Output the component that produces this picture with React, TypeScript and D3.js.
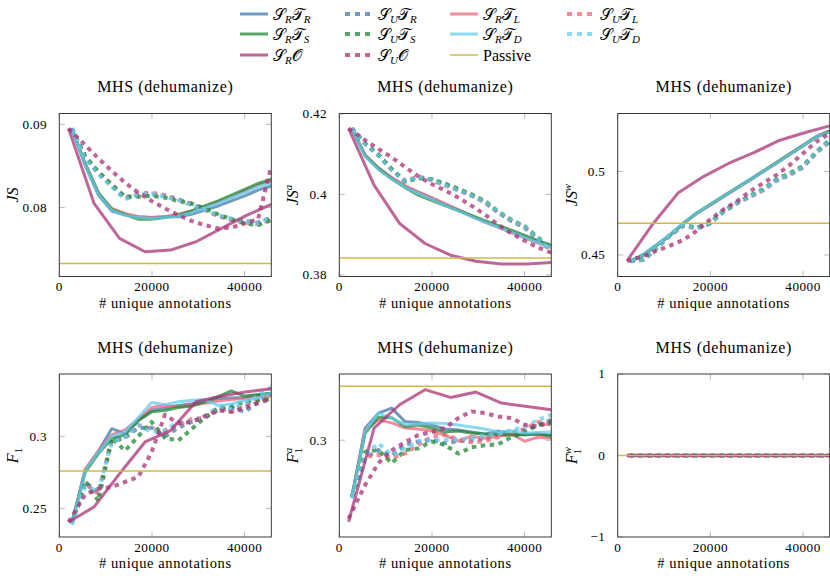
import * as d3 from "d3";

const SERIF = '"Liberation Serif", "Times New Roman", "DejaVu Serif", serif';
const MATH = '"Liberation Serif", "DejaVu Serif", "DejaVu Sans", serif';

// x positions (# unique annotations)
const X_T = [2700, 5570, 8440, 11310, 14180, 17050, 19920, 22790, 25660, 28530, 31400, 34270, 37140, 40010, 42880, 45750];
const X_U = [2000, 5570, 8440, 11310, 14180, 17050, 19920, 22790, 25660, 28530, 31400, 34270, 37140, 40010, 42880, 45750];
const X_O = [2000, 7500, 13000, 18500, 24000, 29500, 35000, 40500, 45750];
const X_TICKS = [0, 20000, 40000];
const X_MAX = 45750;

// JS
const JS = {
  SRTR: [0.0895, 0.0851, 0.0815, 0.0796, 0.0791, 0.0789, 0.0788, 0.0789, 0.0789, 0.0792, 0.0797, 0.0802, 0.0808, 0.0814, 0.0821, 0.0826],
  SUTR: [0.0895, 0.0861, 0.0842, 0.0826, 0.0811, 0.0815, 0.0816, 0.0814, 0.0810, 0.0804, 0.0798, 0.0790, 0.0786, 0.0784, 0.0782, 0.0788],
  SRTL: [0.0895, 0.0853, 0.0817, 0.0799, 0.0793, 0.0789, 0.0788, 0.0789, 0.0792, 0.0796, 0.0801, 0.0807, 0.0813, 0.0820, 0.0827, 0.0832],
  SUTL: [0.0895, 0.0861, 0.0841, 0.0827, 0.0812, 0.0817, 0.0818, 0.0815, 0.0810, 0.0804, 0.0797, 0.0790, 0.0785, 0.0782, 0.0780, 0.0786],
  SRTS: [0.0895, 0.0853, 0.0818, 0.0798, 0.0792, 0.0786, 0.0786, 0.0788, 0.0791, 0.0796, 0.0802, 0.0808, 0.0815, 0.0822, 0.0829, 0.0834],
  SUTS: [0.0895, 0.0862, 0.0843, 0.0828, 0.0813, 0.0813, 0.0814, 0.0812, 0.0808, 0.0805, 0.0799, 0.0792, 0.0786, 0.0781, 0.0779, 0.0785],
  SRTD: [0.0895, 0.0852, 0.0816, 0.0797, 0.0791, 0.0788, 0.0787, 0.0788, 0.0790, 0.0794, 0.0800, 0.0805, 0.0812, 0.0818, 0.0825, 0.0829],
  SUTD: [0.0895, 0.0860, 0.0840, 0.0825, 0.0810, 0.0816, 0.0817, 0.0813, 0.0809, 0.0803, 0.0797, 0.0791, 0.0787, 0.0783, 0.0781, 0.0789],
  SRO: [0.0895, 0.0805, 0.0763, 0.0747, 0.0749, 0.0759, 0.0775, 0.0791, 0.0804],
  SUO: [0.0895, 0.0875, 0.0859, 0.0844, 0.0830, 0.0818, 0.0808, 0.0799, 0.0791, 0.0784, 0.0779, 0.0775, 0.0776, 0.0781, 0.0786, 0.0850],
};

// JS^a
const JSA = {
  SRTR: [0.4164, 0.4096, 0.4063, 0.4040, 0.4020, 0.4005, 0.3991, 0.3975, 0.3961, 0.3946, 0.3932, 0.3920, 0.3907, 0.3895, 0.3882, 0.3870],
  SUTR: [0.4164, 0.4126, 0.4098, 0.4062, 0.4034, 0.4043, 0.4037, 0.4025, 0.4012, 0.3998, 0.3980, 0.3955, 0.3934, 0.3917, 0.3888, 0.3860],
  SRTL: [0.4164, 0.4098, 0.4066, 0.4042, 0.4022, 0.4006, 0.3992, 0.3977, 0.3962, 0.3946, 0.3931, 0.3918, 0.3905, 0.3892, 0.3879, 0.3867],
  SUTL: [0.4164, 0.4126, 0.4097, 0.4061, 0.4033, 0.4045, 0.4035, 0.4022, 0.4010, 0.3996, 0.3981, 0.3956, 0.3935, 0.3918, 0.3889, 0.3862],
  SRTS: [0.4164, 0.4097, 0.4065, 0.4039, 0.4017, 0.3998, 0.3985, 0.3972, 0.3960, 0.3948, 0.3935, 0.3923, 0.3911, 0.3898, 0.3885, 0.3874],
  SUTS: [0.4164, 0.4127, 0.4099, 0.4063, 0.4031, 0.4040, 0.4038, 0.4027, 0.4014, 0.4000, 0.3984, 0.3958, 0.3937, 0.3921, 0.3893, 0.3865],
  SRTD: [0.4164, 0.4095, 0.4062, 0.4038, 0.4018, 0.4002, 0.3988, 0.3973, 0.3959, 0.3945, 0.3931, 0.3919, 0.3906, 0.3893, 0.3880, 0.3868],
  SUTD: [0.4164, 0.4125, 0.4096, 0.4060, 0.4032, 0.4044, 0.4036, 0.4023, 0.4011, 0.3997, 0.3982, 0.3957, 0.3936, 0.3919, 0.3890, 0.3861],
  SRO: [0.4164, 0.4023, 0.3928, 0.3878, 0.3849, 0.3834, 0.3827, 0.3827, 0.3831],
  SUO: [0.4164, 0.4135, 0.4113, 0.4092, 0.4068, 0.4045, 0.4026, 0.4010, 0.3992, 0.3972, 0.3950, 0.3925, 0.3903, 0.3885, 0.3868, 0.3855],
};

// JS^w
const JSW = {
  SRTR: [0.4462, 0.4500, 0.4558, 0.4618, 0.4688, 0.4748, 0.4798, 0.4848, 0.4898, 0.4948, 0.4999, 0.5050, 0.5102, 0.5153, 0.5205, 0.5240],
  SUTR: [0.4463, 0.4470, 0.4540, 0.4618, 0.4675, 0.4662, 0.4695, 0.4765, 0.4815, 0.4850, 0.4888, 0.4946, 0.4980, 0.5025, 0.5112, 0.5180],
  SRTL: [0.4465, 0.4503, 0.4561, 0.4621, 0.4690, 0.4750, 0.4800, 0.4850, 0.4900, 0.4951, 0.5001, 0.5052, 0.5104, 0.5157, 0.5210, 0.5245],
  SUTL: [0.4464, 0.4471, 0.4542, 0.4621, 0.4677, 0.4657, 0.4688, 0.4760, 0.4810, 0.4848, 0.4889, 0.4948, 0.4982, 0.5028, 0.5115, 0.5185],
  SRTS: [0.4463, 0.4502, 0.4560, 0.4620, 0.4690, 0.4752, 0.4803, 0.4853, 0.4903, 0.4952, 0.5003, 0.5054, 0.5106, 0.5158, 0.5210, 0.5243],
  SUTS: [0.4465, 0.4474, 0.4546, 0.4620, 0.4682, 0.4664, 0.4690, 0.4758, 0.4808, 0.4855, 0.4895, 0.4955, 0.4990, 0.5035, 0.5120, 0.5190],
  SRTD: [0.4464, 0.4504, 0.4563, 0.4623, 0.4692, 0.4752, 0.4802, 0.4851, 0.4901, 0.4950, 0.5000, 0.5050, 0.5103, 0.5155, 0.5208, 0.5238],
  SUTD: [0.4464, 0.4472, 0.4544, 0.4623, 0.4679, 0.4659, 0.4692, 0.4762, 0.4812, 0.4851, 0.4891, 0.4950, 0.4984, 0.5030, 0.5119, 0.5188],
  SRO: [0.4464, 0.4683, 0.4871, 0.4970, 0.5050, 0.5115, 0.5188, 0.5234, 0.5274],
  SUO: [0.4464, 0.4492, 0.4526, 0.4556, 0.4590, 0.4645, 0.4712, 0.4772, 0.4821, 0.4881, 0.4931, 0.4980, 0.5040, 0.5109, 0.5179, 0.5228],
};

// F1
const F1 = {
  SRTR: [0.2393, 0.2764, 0.2896, 0.3053, 0.3019, 0.3111, 0.3181, 0.3195, 0.3215, 0.3227, 0.3243, 0.3262, 0.3266, 0.3270, 0.3285, 0.3296],
  SUTR: [0.2400, 0.2680, 0.2610, 0.2960, 0.2990, 0.3060, 0.3060, 0.3000, 0.3060, 0.3100, 0.3130, 0.3180, 0.3200, 0.3170, 0.3240, 0.3290],
  SRTL: [0.2395, 0.2770, 0.2900, 0.3010, 0.3045, 0.3120, 0.3200, 0.3215, 0.3205, 0.3215, 0.3230, 0.3245, 0.3255, 0.3265, 0.3275, 0.3280],
  SUTL: [0.2400, 0.2670, 0.2600, 0.2980, 0.3000, 0.3080, 0.3050, 0.3040, 0.3080, 0.3120, 0.3130, 0.3190, 0.3170, 0.3220, 0.3250, 0.3270],
  SRTS: [0.2400, 0.2750, 0.2880, 0.2985, 0.3010, 0.3110, 0.3170, 0.3180, 0.3200, 0.3210, 0.3240, 0.3275, 0.3315, 0.3280, 0.3290, 0.3300],
  SUTS: [0.2400, 0.2690, 0.2550, 0.2990, 0.2900, 0.3000, 0.3100, 0.2990, 0.2970, 0.3050, 0.3130, 0.3200, 0.3210, 0.3240, 0.3250, 0.3260],
  SRTD: [0.2385, 0.2760, 0.2890, 0.3000, 0.3030, 0.3130, 0.3235, 0.3220, 0.3240, 0.3250, 0.3255, 0.3215, 0.3225, 0.3250, 0.3265, 0.3300],
  SUTD: [0.2390, 0.2650, 0.2620, 0.2960, 0.2995, 0.3076, 0.3030, 0.3040, 0.3100, 0.3100, 0.3140, 0.3200, 0.3190, 0.3230, 0.3280, 0.3340],
  SRO: [0.2405, 0.2510, 0.2740, 0.2961, 0.3040, 0.3240, 0.3280, 0.3310, 0.3330],
  SUO: [0.2405, 0.2595, 0.2637, 0.2648, 0.2683, 0.2718, 0.2890, 0.3150, 0.3090, 0.3100, 0.3140, 0.3180, 0.3170, 0.3200, 0.3230, 0.3260],
};

// F1^a
const F1A = {
  SRTR: [0.2445, 0.3118, 0.3266, 0.3315, 0.3183, 0.3175, 0.3150, 0.3110, 0.3100, 0.3080, 0.3060, 0.3090, 0.3060, 0.3050, 0.3060, 0.3050],
  SUTR: [0.2445, 0.2823, 0.2904, 0.2850, 0.2954, 0.2987, 0.3003, 0.2970, 0.2990, 0.3000, 0.3010, 0.3070, 0.3080, 0.3100, 0.3150, 0.3200],
  SRTL: [0.2440, 0.3100, 0.3200, 0.3170, 0.3120, 0.3110, 0.3090, 0.3050, 0.2990, 0.3040, 0.3020, 0.3040, 0.3060, 0.2990, 0.3030, 0.3020],
  SUTL: [0.2445, 0.2840, 0.2855, 0.2823, 0.2870, 0.2954, 0.3036, 0.3052, 0.3010, 0.2980, 0.2990, 0.3030, 0.3070, 0.3110, 0.3180, 0.3150],
  SRTS: [0.2440, 0.3070, 0.3225, 0.3220, 0.3135, 0.3150, 0.3120, 0.3080, 0.3090, 0.3070, 0.3060, 0.3055, 0.3050, 0.3055, 0.3060, 0.3040],
  SUTS: [0.2445, 0.2888, 0.2904, 0.2773, 0.2904, 0.2920, 0.2987, 0.2954, 0.2870, 0.2930, 0.2950, 0.2960, 0.3030, 0.3080, 0.3150, 0.3170],
  SRTD: [0.2428, 0.3085, 0.3266, 0.3217, 0.3151, 0.3160, 0.3168, 0.3165, 0.3150, 0.3130, 0.3110, 0.3080, 0.3090, 0.3070, 0.3075, 0.3080],
  SUTD: [0.2445, 0.2855, 0.2970, 0.2855, 0.2920, 0.2987, 0.3003, 0.3003, 0.3010, 0.3020, 0.3050, 0.3060, 0.3100, 0.3130, 0.3200, 0.3250],
  SRO: [0.2198, 0.3118, 0.3348, 0.3496, 0.3420, 0.3473, 0.3365, 0.3332, 0.3299],
  SUO: [0.2231, 0.2560, 0.2775, 0.2900, 0.2980, 0.3050, 0.3080, 0.3118, 0.3217, 0.3283, 0.3266, 0.3233, 0.3217, 0.3151, 0.3135, 0.3184],
};

// F1^w
const F1W = {
  SRTR: [0, 0, 0, 0, 0, 0, 0, 0, 0, 0, 0, 0, 0, 0, 0, 0],
  SUTR: [0, 0, 0, 0, 0, 0, 0, 0, 0, 0, 0, 0, 0, 0, 0, 0],
  SRTL: [0, 0, 0, 0, 0, 0, 0, 0, 0, 0, 0, 0, 0, 0, 0, 0],
  SUTL: [0, 0, 0, 0, 0, 0, 0, 0, 0, 0, 0, 0, 0, 0, 0, 0],
  SRTS: [0, 0, 0, 0, 0, 0, 0, 0, 0, 0, 0, 0, 0, 0, 0, 0],
  SUTS: [0, 0, 0, 0, 0, 0, 0, 0, 0, 0, 0, 0, 0, 0, 0, 0],
  SRTD: [0, 0, 0, 0, 0, 0, 0, 0, 0, 0, 0, 0, 0, 0, 0, 0],
  SUTD: [0, 0, 0, 0, 0, 0, 0, 0, 0, 0, 0, 0, 0, 0, 0, 0],
  SRO: [0, 0, 0, 0, 0, 0, 0, 0, 0],
  SUO: [0, 0, 0, 0, 0, 0, 0, 0, 0, 0, 0, 0, 0, 0, 0, 0],
};

const PASSIVE = [0.0733, 0.3842, 0.469, 0.2759, 0.3529, 0];

const Y_DOMAINS = [
  [0.07173, 0.0913],
  [0.3796, 0.4201],
  [0.4371, 0.5348],
  [0.2301, 0.3433],
  [0.205, 0.365],
  [-1, 1],
];
const Y_TICKS = [
  [0.08, 0.09],
  [0.38, 0.4, 0.42],
  [0.45, 0.5],
  [0.25, 0.3],
  [0.3],
  [-1, 0, 1],
];

const SERIES = [
  { key: "SRTR", color: "#4477AA", dotted: false, xs: X_T, s: "R", m: "T", mi: "R" },
  { key: "SUTR", color: "#4477AA", dotted: true, xs: X_T, s: "U", m: "T", mi: "R" },
  { key: "SRTL", color: "#EE6677", dotted: false, xs: X_T, s: "R", m: "T", mi: "L" },
  { key: "SUTL", color: "#EE6677", dotted: true, xs: X_T, s: "U", m: "T", mi: "L" },
  { key: "SRTS", color: "#228833", dotted: false, xs: X_T, s: "R", m: "T", mi: "S" },
  { key: "SUTS", color: "#228833", dotted: true, xs: X_T, s: "U", m: "T", mi: "S" },
  { key: "SRTD", color: "#66CCEE", dotted: false, xs: X_T, s: "R", m: "T", mi: "D" },
  { key: "SUTD", color: "#66CCEE", dotted: true, xs: X_T, s: "U", m: "T", mi: "D" },
  { key: "SRO", color: "#AA3377", dotted: false, xs: X_O, s: "R", m: "O", mi: "" },
  { key: "SUO", color: "#AA3377", dotted: true, xs: X_U, s: "U", m: "O", mi: "" },
];
const PASSIVE_COLOR = "#CCBB44";

const COL_X = [59.3, 339.3, 617.7];
const ROW_Y = [113.5, 374];
const PW = 212;
const PH = 163;
const OPACITY = 0.75;

function YLabel({ kind }: { kind: number }) {
  const it = { fontStyle: "italic" as const };
  if (kind === 0) return <tspan {...it}>JS</tspan>;
  if (kind === 1 || kind === 2)
    return (
      <>
        <tspan {...it}>JS</tspan>
        <tspan {...it} fontSize={11} dy={-6}>{kind === 1 ? "a" : "w"}</tspan>
      </>
    );
  if (kind === 3)
    return (
      <>
        <tspan {...it}>F</tspan>
        <tspan fontSize={11} dy={4}>1</tspan>
      </>
    );
  return (
    <>
      <tspan {...it}>F</tspan>
      <tspan fontSize={11} dy={4}>1</tspan>
      <tspan {...it} fontSize={11} dx={-5.5} dy={-10}>{kind === 4 ? "a" : "w"}</tspan>
    </>
  );
}

function Panel({ idx, data }: { idx: number; data: Record<string, number[]> }) {
  const cx = COL_X[idx % 3];
  const cy = ROW_Y[Math.floor(idx / 3)];
  const x = d3.scaleLinear().domain([0, X_MAX]).range([cx, cx + PW]);
  const y = d3.scaleLinear().domain(Y_DOMAINS[idx]).range([cy + PH, cy]);
  const line = d3
    .line<[number, number]>()
    .x((d) => x(d[0]))
    .y((d) => y(d[1]));
  const fmt = d3.format("~g");
  const clipId = `clip-${idx}`;
  const tickLen = 5.5;

  return (
    <g>
      <defs>
        <clipPath id={clipId}>
          <rect x={cx} y={cy} width={PW} height={PH} />
        </clipPath>
      </defs>
      {/* tick marks inside the box */}
      {X_TICKS.map((t) => (
        <g key={`xt${t}`} stroke="#a6a6a6" strokeWidth={0.8}>
          <line x1={x(t)} x2={x(t)} y1={cy + PH} y2={cy + PH - tickLen} />
          <line x1={x(t)} x2={x(t)} y1={cy} y2={cy + tickLen} />
        </g>
      ))}
      {Y_TICKS[idx].map((t) => (
        <g key={`yt${t}`} stroke="#a6a6a6" strokeWidth={0.8}>
          <line x1={cx} x2={cx + tickLen} y1={y(t)} y2={y(t)} />
          <line x1={cx + PW} x2={cx + PW - tickLen} y1={y(t)} y2={y(t)} />
        </g>
      ))}
      <g clipPath={`url(#${clipId})`} fill="none">
        {SERIES.map((s) => {
          const vals = data[s.key];
          const pts = s.xs.map((xv, i) => [xv, vals[i]] as [number, number]);
          return (
            <path
              key={s.key}
              d={line(pts) || ""}
              stroke={s.color}
              strokeOpacity={OPACITY}
              strokeWidth={s.dotted ? 4 : 3}
              strokeDasharray={s.dotted ? "4.5 4.5" : undefined}
              strokeLinejoin="round"
            />
          );
        })}
        <path
          d={line([[0, PASSIVE[idx]], [X_MAX, PASSIVE[idx]]]) || ""}
          stroke={PASSIVE_COLOR}
          strokeWidth={1.5}
        />
      </g>
      <rect x={cx} y={cy} width={PW} height={PH} fill="none" stroke="#3a3a3a" strokeWidth={1} />
      {X_TICKS.map((t) => (
        <text key={`xl${t}`} x={x(t)} y={cy + PH + 14.5} textAnchor="middle" fontFamily={SERIF} fontSize={13.2} letterSpacing={0.5}>
          {fmt(t)}
        </text>
      ))}
      {Y_TICKS[idx].map((t) => (
        <text key={`yl${t}`} x={cx - 12.5} y={y(t)} dy="0.33em" textAnchor="end" fontFamily={SERIF} fontSize={13.2} letterSpacing={0.3}>
          {fmt(t)}
        </text>
      ))}
      <text x={cx + PW / 2} y={cy - 21.5} textAnchor="middle" fontFamily={SERIF} fontSize={16} letterSpacing={0.6}>
        MHS (dehumanize)
      </text>
      <text x={cx + PW / 2} y={cy + PH + 31} textAnchor="middle" fontFamily={SERIF} fontSize={14.5} letterSpacing={0.6}>
        # unique annotations
      </text>
      <text
        transform={`translate(${cx - 41},${cy + PH / 2}) rotate(-90)`}
        textAnchor="middle"
        fontFamily={SERIF}
        fontSize={16}
      >
        <YLabel kind={idx} />
      </text>
    </g>
  );
}

function Legend() {
  const colX = [240, 345, 450, 567];
  const rowY = [14, 34, 55];
  const entries = [
    ...SERIES.map((s) => ({ ...s, passive: false })),
    { key: "Passive", color: PASSIVE_COLOR, dotted: false, s: "", m: "", mi: "", passive: true },
  ];
  return (
    <g>
      {entries.map((e, i) => {
        const lx = colX[i % 4];
        const ly = rowY[Math.floor(i / 4)];
        return (
          <g key={e.key}>
            <line
              x1={lx}
              x2={lx + 28}
              y1={ly}
              y2={ly}
              stroke={e.color}
              strokeOpacity={e.passive ? 1 : OPACITY}
              strokeWidth={e.passive ? 1.5 : e.dotted ? 4 : 3}
              strokeDasharray={e.dotted ? "5 5" : undefined}
            />
            <text x={lx + 33} y={ly + 5.5} fontFamily={MATH} fontSize={16}>
              {e.passive ? (
                "Passive"
              ) : (
                <>
                  <tspan>{"\u{1D4AE}"}</tspan>
                  <tspan fontSize={11} dy={3} fontStyle="italic">{e.s}</tspan>
                  <tspan dy={-3}>{e.m === "T" ? "\u{1D4AF}" : "\u{1D4AA}"}</tspan>
                  {e.mi && (
                    <tspan fontSize={11} dy={3} fontStyle="italic">{e.mi}</tspan>
                  )}
                </>
              )}
            </text>
          </g>
        );
      })}
    </g>
  );
}

export default function App() {
  const panels = [JS, JSA, JSW, F1, F1A, F1W];
  return (
    <svg width={830} height={581} style={{ position: "absolute", left: 0, top: 0, background: "#fff" }}>
      <Legend />
      {panels.map((p, i) => (
        <Panel key={i} idx={i} data={p} />
      ))}
    </svg>
  );
}
